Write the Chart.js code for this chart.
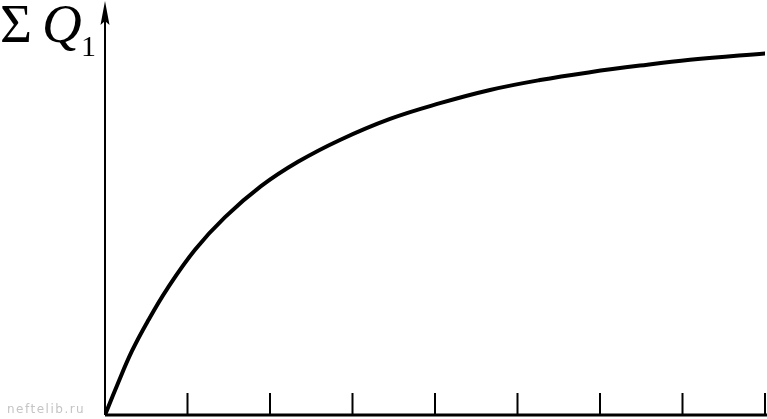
<!DOCTYPE html>
<html>
<head>
<meta charset="utf-8">
<script src="https://cdn.jsdelivr.net/npm/chart.js@4/dist/chart.umd.min.js"></script>
<style>
    html, body { margin: 0; padding: 0; background: #fff; }
    #wrap { position: relative; width: 767px; height: 419px; overflow: hidden; }
    .lbl { position: absolute; font-family: 'Liberation Serif', serif; line-height: 1; color: #000; white-space: nowrap; }
    #sig { left: 0px; top: -4px; font-size: 55px; }
    #q { left: 42px; top: -4px; font-size: 55px; font-style: italic; }
    #sub1 { left: 81px; top: 31px; font-size: 30px; }
    #mark { position: absolute; left: 7px; top: 402px; font-family: 'DejaVu Sans', sans-serif; font-size: 12px; letter-spacing: 1.5px; color: #c4c4c4; }
</style>
</head>
<body>
<div id="wrap">
    <canvas id="myChart" width="767" height="419"></canvas>
    <span class="lbl" id="sig">&Sigma;</span><span class="lbl" id="q">Q</span><span class="lbl" id="sub1">1</span>
    <div id="mark">neftelib.ru</div>
</div>
<script>
// cumulative curve (x in tick units, y in % of axis height)
var qX = [0, 0.145, 0.327, 0.521, 0.752, 1.091, 1.455, 1.891, 2.339, 2.848, 3.455, 4.061, 4.667, 5.273, 5.879, 6.485, 7.091, 8.03];
var qY = [0, 7.1, 15.5, 22.8, 30.5, 40.0, 47.9, 55.4, 61.3, 66.6, 71.7, 75.5, 78.7, 81.1, 83.0, 84.6, 86.0, 87.6];
var xTicks = [1, 2, 3, 4, 5, 6, 7, 8];

// white page behind the chart
var bgPlugin = {
    id: 'bg',
    beforeDraw(chart) {
        var c = chart.ctx;
        c.save();
        c.fillStyle = '#fff';
        c.fillRect(0, 0, chart.width, chart.height);
        c.restore();
    }
};

// axes with arrow and upward tick marks
var axesPlugin = {
    id: 'axes',
    afterDraw(chart) {
        var c = chart.ctx;
        var xs = chart.scales.x, ys = chart.scales.y;
        var x0 = xs.getPixelForValue(0);
        var y0 = ys.getPixelForValue(0);
        var yTop = ys.getPixelForValue(100);
        c.save();
        c.strokeStyle = '#000';
        c.fillStyle = '#000';
        // y axis
        c.lineWidth = 2;
        c.beginPath();
        c.moveTo(x0, y0);
        c.lineTo(x0, yTop + 14);
        c.stroke();
        // arrow head
        c.beginPath();
        c.moveTo(x0, yTop - 1);
        c.lineTo(x0 + 4.5, yTop + 23);
        c.lineTo(x0, yTop + 19);
        c.lineTo(x0 - 4.5, yTop + 23);
        c.closePath();
        c.fill();
        // x axis
        c.lineWidth = 3;
        c.beginPath();
        c.moveTo(x0, y0);
        c.lineTo(chart.width, y0);
        c.stroke();
        // ticks
        c.lineWidth = 2;
        xTicks.forEach(function (t) {
            var px = Math.min(xs.getPixelForValue(t), chart.width - 2);
            c.beginPath();
            c.moveTo(px, y0);
            c.lineTo(px, y0 - 22);
            c.stroke();
        });
        c.restore();
    }
};

var myChart = new Chart(document.getElementById('myChart').getContext('2d'), {
    type: 'line',
    data: {
        datasets: [{
            data: qX.map(function (x, i) { return { x: x, y: qY[i] }; }),
            borderColor: '#000',
            borderWidth: 4,
            pointRadius: 0,
            fill: false,
            tension: 0.4
        }]
    },
    options: {
        responsive: false,
        animation: false,
        devicePixelRatio: 1,
        layout: { padding: { left: 105, right: 2, top: 2, bottom: 4 } },
        plugins: { legend: { display: false }, tooltip: { enabled: false } },
        scales: {
            x: { type: 'linear', min: 0, max: 8, display: false },
            y: { min: 0, max: 100, display: false }
        }
    },
    plugins: [bgPlugin, axesPlugin]
});
</script>
</body>
</html>
